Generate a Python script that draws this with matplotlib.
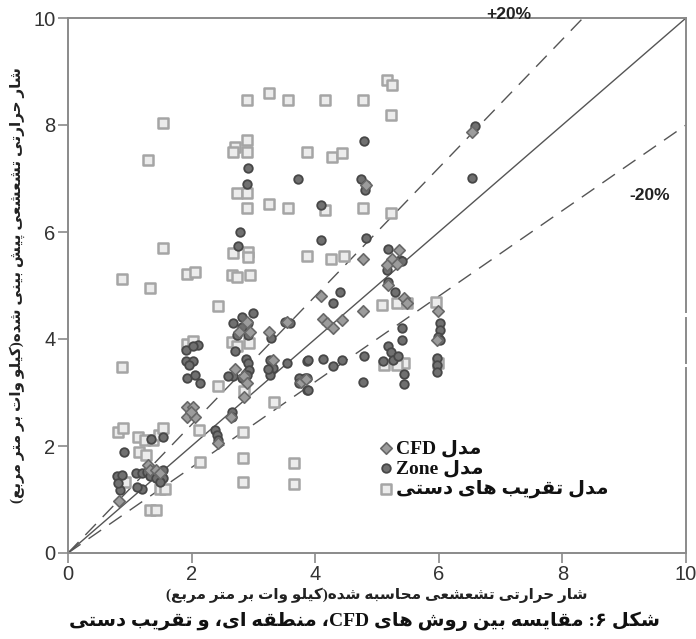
import matplotlib
matplotlib.use('Agg')
import matplotlib.pyplot as plt
from matplotlib.font_manager import FontProperties

# ---------------- data ----------------
cfd_x = [4.82, 6.53, 4.77, 5.36, 5.25, 5.16, 5.32, 2.90, 2.76, 2.94, 3.25, 3.54, 2.70, 2.84,
         2.89, 2.84, 3.32, 2.63, 2.43, 1.92, 2.03, 1.92, 2.06, 1.99, 1.30, 1.33, 1.43, 1.49,
         0.83, 5.17, 5.43, 5.48, 4.10, 4.77, 4.13, 4.19, 4.28, 4.43, 5.99, 5.97, 3.77, 3.85]
cfd_y = [6.87, 7.86, 5.50, 5.67, 5.49, 5.38, 5.41, 4.32, 4.14, 4.14, 4.14, 4.32, 3.43, 3.30,
         3.17, 2.92, 3.61, 2.55, 2.05, 2.73, 2.73, 2.55, 2.55, 2.64, 1.64, 1.55, 1.55, 1.49,
         0.98, 5.01, 4.76, 4.68, 4.80, 4.52, 4.37, 4.29, 4.20, 4.36, 4.52, 3.98, 3.20, 3.25]

zone_x = [2.91, 2.90, 2.79, 2.75, 4.79, 3.72, 4.74, 4.82, 4.80, 6.53, 6.59, 4.10, 4.10, 4.82,
          5.18, 5.38, 5.16, 5.40, 3.00, 2.81, 2.67, 2.92, 2.81, 2.73, 2.92, 2.70, 2.11, 1.91,
          2.03, 3.28, 3.59, 3.51, 1.91, 2.03, 1.95, 1.93, 2.06, 2.14, 2.88, 2.92, 2.93, 2.89,
          2.81, 2.67, 2.59, 3.27, 3.32, 3.27, 3.24, 3.55, 3.73, 3.86, 3.73, 3.86, 3.87, 2.65,
          2.66, 2.38, 2.41, 2.42, 0.91, 1.54, 1.35, 1.10, 1.19, 1.28, 1.41, 1.54, 1.33, 1.43,
          1.54, 1.49, 1.19, 1.12, 0.79, 0.87, 0.84, 0.81, 5.18, 5.29, 4.40, 4.28, 6.02, 6.02,
          5.99, 6.02, 5.97, 5.97, 5.97, 5.40, 5.40, 5.18, 5.22, 5.10, 5.26, 5.34, 5.43, 5.43,
          4.79, 4.77, 3.89, 4.12, 4.28, 4.43, 3.84, 3.89]
zone_y = [7.19, 6.89, 6.00, 5.73, 7.71, 7.00, 7.00, 6.87, 6.79, 7.01, 7.99, 6.50, 5.85, 5.88,
          5.68, 5.48, 5.29, 5.45, 4.48, 4.42, 4.29, 4.29, 4.23, 4.07, 4.07, 3.78, 3.89, 3.79,
          3.87, 4.01, 4.30, 4.32, 3.59, 3.58, 3.51, 3.28, 3.33, 3.17, 3.63, 3.55, 3.42, 3.33,
          3.27, 3.30, 3.30, 3.61, 3.45, 3.33, 3.43, 3.56, 3.27, 3.27, 3.17, 3.05, 3.59, 2.64,
          2.55, 2.30, 2.21, 2.11, 1.88, 2.17, 2.14, 1.49, 1.49, 1.52, 1.52, 1.55, 1.43, 1.40,
          1.40, 1.33, 1.19, 1.23, 1.43, 1.46, 1.18, 1.30, 5.07, 4.88, 4.88, 4.68, 4.29, 4.17,
          4.04, 3.98, 3.64, 3.51, 3.39, 4.20, 3.98, 3.86, 3.76, 3.58, 3.61, 3.68, 3.35, 3.16,
          3.68, 3.20, 3.61, 3.62, 3.50, 3.61, 3.27, 3.05]

hand_x = [2.90, 1.53, 2.90, 2.71, 2.67, 2.90, 1.29, 2.73, 2.90, 2.90, 2.67, 2.92, 2.92, 1.53,
          0.87, 1.32, 1.92, 2.05, 2.65, 2.73, 2.94, 5.16, 5.25, 3.26, 3.56, 4.16, 4.78, 5.22,
          3.87, 4.27, 4.44, 3.26, 3.56, 4.16, 4.78, 5.23, 3.87, 4.25, 4.47, 2.42, 2.65, 2.73,
          2.93, 1.92, 2.02, 0.87, 2.43, 2.85, 3.33, 2.12, 2.83, 2.83, 2.14, 2.83, 3.65, 3.66,
          1.33, 1.43, 0.81, 0.89, 1.14, 1.25, 1.37, 1.48, 1.53, 1.15, 1.26, 1.49, 1.57, 0.92,
          5.08, 5.32, 5.48, 5.96, 5.11, 5.43, 5.32, 5.99]
hand_y = [8.47, 8.04, 7.72, 7.59, 7.50, 7.50, 7.35, 6.73, 6.73, 6.44, 5.60, 5.63, 5.54, 5.70,
          5.12, 4.95, 5.21, 5.25, 5.20, 5.16, 5.20, 8.85, 8.74, 8.60, 8.47, 8.47, 8.47, 8.18,
          7.50, 7.40, 7.48, 6.52, 6.44, 6.41, 6.44, 6.35, 5.56, 5.49, 5.56, 4.62, 3.95, 3.86,
          3.92, 3.91, 3.97, 3.48, 3.13, 3.03, 2.82, 2.30, 2.27, 1.77, 1.71, 1.33, 1.69, 1.29,
          0.80, 0.80, 2.27, 2.33, 2.17, 2.11, 2.11, 2.21, 2.33, 1.89, 1.83, 1.19, 1.20, 1.33,
          4.64, 4.67, 4.67, 4.70, 3.51, 3.55, 3.51, 3.55]

ref_ratios = [1.0, 1.2, 0.8]
ref_labels = ['+20%', '-20%']
x_ticks = [0, 2, 4, 6, 8, 10]
y_ticks = [0, 2, 4, 6, 8, 10]

legend_labels = ['مدل CFD', 'مدل Zone', 'مدل تقریب های دستی']
x_label = 'شار حرارتی تشعشعی محاسبه شده(کیلو وات بر متر مربع)'
y_label = 'شار حرارتی تشعشعی پیش بینی شده(کیلو وات بر متر مربع)'
caption = 'شکل ۶: مقایسه بین روش های CFD، منطقه ای، و تقریب دستی'

# ------------- simple Arabic/Persian shaping + bidi -------------
FORMS = {
    'ا': ('\uFE8D', '\uFE8E', None, None), 'آ': ('\uFE81', '\uFE82', None, None),
    'ب': ('\uFE8F', '\uFE90', '\uFE91', '\uFE92'), 'پ': ('\uFB56', '\uFB57', '\uFB58', '\uFB59'),
    'ت': ('\uFE95', '\uFE96', '\uFE97', '\uFE98'), 'ث': ('\uFE99', '\uFE9A', '\uFE9B', '\uFE9C'),
    'ج': ('\uFE9D', '\uFE9E', '\uFE9F', '\uFEA0'), 'چ': ('\uFB7A', '\uFB7B', '\uFB7C', '\uFB7D'),
    'ح': ('\uFEA1', '\uFEA2', '\uFEA3', '\uFEA4'), 'خ': ('\uFEA5', '\uFEA6', '\uFEA7', '\uFEA8'),
    'د': ('\uFEA9', '\uFEAA', None, None), 'ذ': ('\uFEAB', '\uFEAC', None, None),
    'ر': ('\uFEAD', '\uFEAE', None, None), 'ز': ('\uFEAF', '\uFEB0', None, None),
    'ژ': ('\uFB8A', '\uFB8B', None, None),
    'س': ('\uFEB1', '\uFEB2', '\uFEB3', '\uFEB4'), 'ش': ('\uFEB5', '\uFEB6', '\uFEB7', '\uFEB8'),
    'ص': ('\uFEB9', '\uFEBA', '\uFEBB', '\uFEBC'), 'ض': ('\uFEBD', '\uFEBE', '\uFEBF', '\uFEC0'),
    'ط': ('\uFEC1', '\uFEC2', '\uFEC3', '\uFEC4'), 'ظ': ('\uFEC5', '\uFEC6', '\uFEC7', '\uFEC8'),
    'ع': ('\uFEC9', '\uFECA', '\uFECB', '\uFECC'), 'غ': ('\uFECD', '\uFECE', '\uFECF', '\uFED0'),
    'ف': ('\uFED1', '\uFED2', '\uFED3', '\uFED4'), 'ق': ('\uFED5', '\uFED6', '\uFED7', '\uFED8'),
    'ک': ('\uFB8E', '\uFB8F', '\uFB90', '\uFB91'), 'گ': ('\uFB92', '\uFB93', '\uFB94', '\uFB95'),
    'ل': ('\uFEDD', '\uFEDE', '\uFEDF', '\uFEE0'), 'م': ('\uFEE1', '\uFEE2', '\uFEE3', '\uFEE4'),
    'ن': ('\uFEE5', '\uFEE6', '\uFEE7', '\uFEE8'), 'و': ('\uFEED', '\uFEEE', None, None),
    'ه': ('\uFEE9', '\uFEEA', '\uFEEB', '\uFEEC'), 'ی': ('\uFBFC', '\uFBFD', '\uFBFE', '\uFBFF'),
}
MIRROR = {'(': ')', ')': '('}


def shape(text):
    out = []
    n = len(text)
    for i, ch in enumerate(text):
        if ch not in FORMS:
            out.append(ch)
            continue
        iso, fin, ini, med = FORMS[ch]
        prev = text[i - 1] if i > 0 else ''
        nxt = text[i + 1] if i < n - 1 else ''
        pj = prev in FORMS and FORMS[prev][2] is not None
        nj = nxt in FORMS and ini is not None
        if pj and nj:
            out.append(med)
        elif pj:
            out.append(fin)
        elif nj:
            out.append(ini)
        else:
            out.append(iso)
    return ''.join(out)


def rtl(text):
    s = shape(text)
    tokens = []
    buf = ''
    for ch in s:
        if ch.isascii() and ch.isalnum():
            buf += ch
        else:
            if buf:
                tokens.append(buf)
                buf = ''
            tokens.append(MIRROR.get(ch, ch))
    if buf:
        tokens.append(buf)
    return ''.join(reversed(tokens))


ARFONT = ['Liberation Serif', 'DejaVu Sans']

# ---------------- figure ----------------
fig = plt.figure(figsize=(6.96, 6.39), dpi=100)
ax = fig.add_axes([68 / 696, 1 - 553 / 639, 618 / 696, 535 / 639])

ax.set_xlim(0, 10)
ax.set_ylim(0, 10)

line_col = '#555555'
xs = [0, 10]
ax.plot(xs, [ref_ratios[0] * v for v in xs], color=line_col, lw=1.0, zorder=2)
ax.plot(xs, [ref_ratios[1] * v for v in xs], color=line_col, lw=1.0, dashes=(11, 7), zorder=2)
ax.plot(xs, [ref_ratios[2] * v for v in xs], color=line_col, lw=1.0, dashes=(11, 7), zorder=2)

h_hand = ax.scatter(hand_x, hand_y, marker='s', s=44, facecolor='#ececec',
                    edgecolor='#a5a5a5', linewidth=1.8, zorder=3)
h_zone = ax.scatter(zone_x, zone_y, marker='o', s=38, facecolor='#707070',
                    edgecolor='#474747', linewidth=1.3, zorder=4)
h_cfd = ax.scatter(cfd_x, cfd_y, marker='D', s=34, facecolor='#9c9c9c',
                   edgecolor='#686868', linewidth=1.2, zorder=5)

ax.text(7.14, 10.06, ref_labels[0], fontsize=12.5, fontweight='bold',
        family='Liberation Sans', color='#222222', ha='center', va='center')
ax.text(9.42, 6.69, ref_labels[1], fontsize=12.5, fontweight='bold',
        family='Liberation Sans', color='#222222', ha='center', va='center')

# spines and ticks
spine_col = '#8a8a8a'
for side in ['left', 'bottom', 'top']:
    ax.spines[side].set_color(spine_col)
    ax.spines[side].set_linewidth(1.4)
ax.spines['right'].set_visible(False)
for lo, hi in [(0.0, 3.46), (3.55, 4.39), (4.50, 10.0)]:
    ax.axvline(10, ymin=lo / 10, ymax=hi / 10, color=spine_col, lw=1.4, clip_on=False)

ax.set_xticks(x_ticks)
ax.set_yticks(y_ticks)
ax.tick_params(direction='out', length=7, width=1.2, color=spine_col,
               labelsize=14.5, labelcolor='#333333', pad=2)
for lab in ax.get_xticklabels() + ax.get_yticklabels():
    lab.set_family('Liberation Sans')

ax.set_xlabel(rtl(x_label), fontsize=11, fontweight='bold', family=ARFONT,
              color='#222222', labelpad=2)
ax.set_ylabel(rtl(y_label), fontsize=11, fontweight='bold', family=ARFONT,
              color='#222222', labelpad=6)

leg = ax.legend([h_cfd, h_zone, h_hand], [rtl(t) for t in legend_labels],
                loc='upper left', bbox_to_anchor=(0.505, 0.212), frameon=False,
                prop=FontProperties(family=ARFONT, weight='bold', size=14),
                handlelength=0.6, handletextpad=0.2, labelspacing=0.12,
                borderpad=0, borderaxespad=0, scatterpoints=1)
for t in leg.get_texts():
    t.set_color('#111111')

fig.text(0.524, 0.012, rtl(caption), fontsize=14, fontweight='bold', family=ARFONT,
         ha='center', va='bottom', color='#111111')

fig.savefig('out.png', dpi=100)
